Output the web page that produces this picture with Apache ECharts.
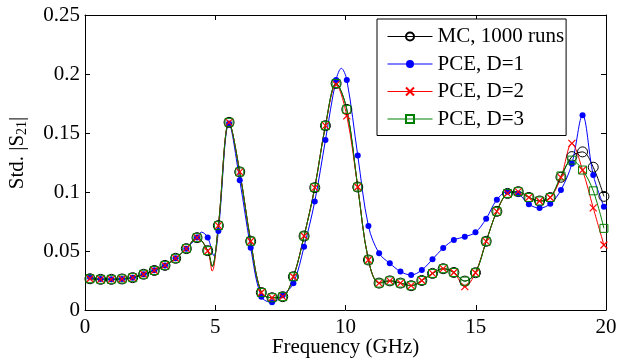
<!DOCTYPE html>
<html><head><meta charset="utf-8">
<script src="https://cdn.jsdelivr.net/npm/echarts@6/dist/echarts.min.js"></script>
<style>html,body{margin:0;padding:0;background:#fff}#c{width:617px;height:360px}</style>
</head><body><div id="c"></div>
<script>
const freqs = [0.19,0.60,1.01,1.42,1.83,2.25,2.66,3.07,3.48,3.89,4.30,4.71,5.12,5.53,5.94,6.36,6.77,7.18,7.59,8.00,8.41,8.82,9.23,9.64,10.05,10.47,10.88,11.29,11.70,12.11,12.52,12.93,13.34,13.75,14.16,14.58,14.99,15.40,15.81,16.22,16.63,17.04,17.45,17.86,18.27,18.69,19.10,19.51,19.92];
const mcVals = [0.0265,0.0260,0.0260,0.0263,0.0274,0.0303,0.0335,0.0378,0.0438,0.0520,
  0.0613,0.0503,0.0715,0.1590,0.1170,0.0583,0.0148,0.0104,0.0113,0.0282,
  0.0627,0.1037,0.1562,0.1920,0.1700,0.1042,0.0424,0.0228,0.0247,0.0228,
  0.0206,0.0250,0.0310,0.0350,0.0318,0.0245,0.0316,0.0582,0.0836,0.0988,
  0.1003,0.0954,0.0924,0.0953,0.1125,0.1300,0.1340,0.1210,0.0963];
const pce1Vals = [0.0277,0.0262,0.0260,0.0263,0.0274,0.0303,0.0336,0.0378,0.0438,0.0520,
  0.0615,0.0615,0.0670,0.1580,0.1100,0.0528,0.0113,0.0065,0.0125,0.0226,
  0.0537,0.0920,0.1440,0.1950,0.1950,0.1310,0.0712,0.0480,0.0396,0.0326,
  0.0297,0.0339,0.0430,0.0525,0.0593,0.0621,0.0658,0.0774,0.0935,0.1003,
  0.0985,0.0896,0.0864,0.0900,0.1017,0.1240,0.1650,0.1144,0.0876];
const pce2Vals = [0.0265,0.0260,0.0260,0.0263,0.0274,0.0303,0.0335,0.0378,0.0438,0.0520,
  0.0613,0.0500,0.0715,0.1590,0.1170,0.0583,0.0148,0.0104,0.0113,0.0282,
  0.0627,0.1037,0.1562,0.1910,0.1645,0.1042,0.0424,0.0228,0.0247,0.0228,
  0.0206,0.0250,0.0310,0.0350,0.0318,0.0198,0.0316,0.0582,0.0836,0.0988,
  0.1003,0.0954,0.0924,0.0953,0.1124,0.1412,0.1186,0.0865,0.0551];
const pce3Vals = [0.0265,0.0260,0.0260,0.0263,0.0274,0.0303,0.0335,0.0378,0.0438,0.0520,
  0.0613,0.0503,0.0715,0.1590,0.1170,0.0583,0.0148,0.0104,0.0113,0.0282,
  0.0627,0.1037,0.1562,0.1920,0.1700,0.1042,0.0424,0.0228,0.0247,0.0228,
  0.0206,0.0250,0.0310,0.0350,0.0318,0.0245,0.0316,0.0582,0.0836,0.0988,
  0.1003,0.0954,0.0924,0.0953,0.1136,0.1270,0.1186,0.1010,0.0692];
// curve points between markers (no marker drawn)
const mcExtra = [[4.88,0.037]];
const pce1Extra = [[4.47,0.066],[4.95,0.046],[9.84,0.2048]];
const pce2Extra = [[4.88,0.033]];
const pce3Extra = [[4.88,0.037]];
const seriesNames = ['MC, 1000 runs','PCE, D=1','PCE, D=2','PCE, D=3'];
const xTicks = [0,5,10,15,20];
const yTicks = [0,0.05,0.1,0.15,0.2,0.25];

function build(vals, extras){
  const pts = freqs.map((f,i)=>({value:[f, vals[i]]}));
  extras.forEach(e=>pts.push({value:e, symbol:'none'}));
  pts.sort((a,b)=>a.value[0]-b.value[0]);
  return pts;
}
const FONT = 'Liberation Serif';
const chart = echarts.init(document.getElementById('c'), null, {renderer:'canvas'});
const axisCommon = {
  type:'value',
  axisLine:{show:true, onZero:false, lineStyle:{color:'#000', width:1}},
  axisTick:{show:true, inside:true, length:5, lineStyle:{color:'#000'}},
  splitLine:{show:false}
};
function mkSeries(name, vals, extras, color, symbol, size, itemStyle){
  return {
    name, type:'line', data: build(vals, extras), smooth:0.35,
    symbol, symbolSize:size, showSymbol:true,
    lineStyle:{color, width:1}, itemStyle,
    emphasis:{disabled:true}, z:2
  };
}
chart.setOption({
  animation:false,
  backgroundColor:'#fff',
  grid:{left:85, right:11, top:15, bottom:50, containLabel:false, outerBoundsMode:'none'},
  xAxis:[
    Object.assign({}, axisCommon, {position:'bottom', min:xTicks[0], max:xTicks[xTicks.length-1], interval:5,
      name:'Frequency (GHz)', nameLocation:'middle', nameGap:27, nameMoveOverlap:false,
      nameTextStyle:{fontFamily:FONT, fontSize:21, color:'#000'},
      axisLabel:{fontFamily:FONT, fontSize:21, color:'#000', margin:7}}),
    Object.assign({}, axisCommon, {position:'top', min:0, max:20, interval:5, axisLabel:{show:false}})
  ],
  yAxis:[
    Object.assign({}, axisCommon, {position:'left', min:yTicks[0], max:yTicks[yTicks.length-1], interval:0.05,
      axisLabel:{fontFamily:FONT, fontSize:21, color:'#000', margin:5}}),
    Object.assign({}, axisCommon, {position:'right', min:0, max:0.25, interval:0.05, axisLabel:{show:false}})
  ],
  legend:{
    orient:'vertical', left:377, top:19,
    padding:[7,2,6,10], itemGap:6.5, itemWidth:45, itemHeight:10,
    lineStyle:{width:1},
    backgroundColor:'#fff', borderColor:'#000', borderWidth:1, borderRadius:0,
    textStyle:{fontFamily:FONT, fontSize:21, color:'#000'},
    data: seriesNames
  },
  graphic:[{
    type:'text', x:17, y:153, rotation:Math.PI/2,
    style:{
      text:'{n|Std. |S}{s|21}{n||}', align:'center', verticalAlign:'middle',
      rich:{
        n:{fontFamily:FONT, fontSize:21, lineHeight:21, verticalAlign:'top', fill:'#000'},
        s:{fontFamily:FONT, fontSize:14, lineHeight:14, verticalAlign:'top', padding:[9,0,0,0], fill:'#000'}
      }
    }
  }],
  series:[
    mkSeries(seriesNames[0], mcVals, mcExtra, '#000', 'circle', 10, {color:'transparent', borderColor:'#000', borderWidth:1}),
    mkSeries(seriesNames[1], pce1Vals, pce1Extra, '#0000ff', 'circle', 6, {color:'#0000ff', borderWidth:0}),
    mkSeries(seriesNames[2], pce2Vals, pce2Extra, '#ff0000', 'path://M0,0L10,10M10,0L0,10', 7, {color:'transparent', borderColor:'#ff0000', borderWidth:1.2}),
    mkSeries(seriesNames[3], pce3Vals, pce3Extra, '#008000', 'rect', 8, {color:'transparent', borderColor:'#008000', borderWidth:1})
  ]
});
</script></body></html>
